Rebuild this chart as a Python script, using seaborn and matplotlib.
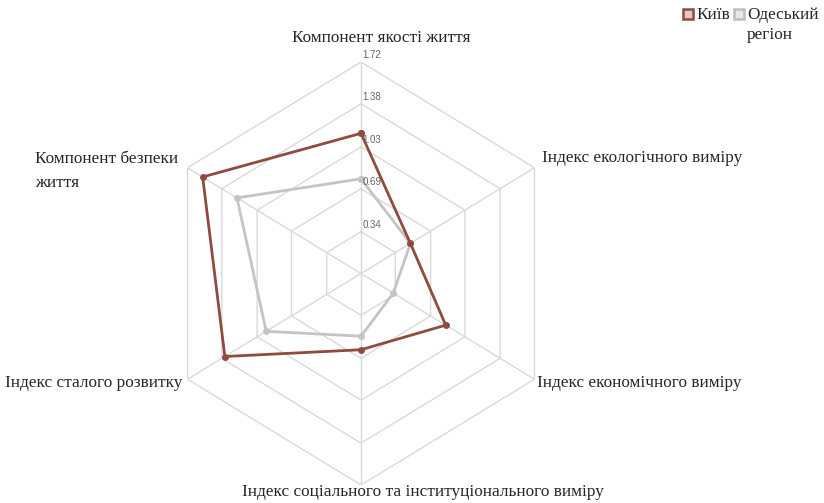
import numpy as np
import pandas as pd
import matplotlib
matplotlib.use("Agg")
import matplotlib.pyplot as plt
import seaborn as sns
from matplotlib.patches import Rectangle

# Data
categories = [
    "Компонент якості життя",
    "Індекс екологічного виміру",
    "Індекс економічного виміру",
    "Індекс соціального та інституціонального виміру",
    "Індекс сталого розвитку",
    "Компонент безпеки\nжиття",
]
kyiv = [1.14, 0.49, 0.84, 0.62, 1.35, 1.57]
odesa = [0.77, 0.49, 0.32, 0.51, 0.94, 1.23]
series_names = ["Київ", "Одеський\nрегіон"]
ticks = [0.34, 0.69, 1.03, 1.38, 1.72]
tick_labels = ["0.34", "0.69", "1.03", "1.38", "1.72"]
r_max = 1.72

brown = "#8E4B3E"
grey = "#C4C4C4"
grid_col = "#D9D9D9"

sns.set_style("white")
plt.rcParams["font.family"] = ["Liberation Serif", "DejaVu Serif"]

W, H = 824, 503
fig = plt.figure(figsize=(W / 100, H / 100), dpi=100)


def px(x, y):
    return x / W, 1 - y / H


# axes box: centre (361, 273.5), horizontal radius ~200, vertical ~211.5
ax = fig.add_axes([160.7 / W, (H - 485) / H, 400.6 / W, 423 / H], projection="polar")
ax.set_aspect("auto")
ax.set_theta_zero_location("N")
ax.set_theta_direction(-1)

n = len(categories)
angles = np.linspace(0, 2 * np.pi, n, endpoint=False)
closed = np.append(angles, angles[0])

# hexagonal grid
for t in ticks:
    ax.plot(closed, [t] * (n + 1), color=grid_col, lw=1, zorder=1)
for a in angles:
    ax.plot([a, a], [0, r_max], color=grid_col, lw=1, zorder=1)

df = pd.DataFrame({
    "theta": np.concatenate([closed, closed]),
    "value": kyiv + [kyiv[0]] + odesa + [odesa[0]],
    "region": [series_names[0]] * (n + 1) + [series_names[1]] * (n + 1),
})
sns.lineplot(data=df, x="theta", y="value", hue="region",
             estimator=None, sort=False,
             palette={series_names[0]: brown, series_names[1]: grey},
             hue_order=series_names[::-1], lw=2, marker="o", markersize=5,
             markeredgewidth=0, legend=False, ax=ax, zorder=3)

ax.set_ylim(0, r_max)
ax.set_xticks([])
ax.set_yticks([])
ax.grid(False)
ax.spines["polar"].set_visible(False)
ax.set_xlabel("")
ax.set_ylabel("")

for t, lab in zip(ticks, tick_labels):
    ax.annotate(lab, (0, t), xytext=(1, 5), textcoords="offset points",
                ha="left", va="center", fontsize=7, color="#666666",
                family="Liberation Sans", zorder=4)

# category labels
lab_fs = 12.4
fig.text(*px(381, 38), categories[0], ha="center", va="center", fontsize=lab_fs, color="#262626")
fig.text(*px(542, 158), categories[1], ha="left", va="center", fontsize=lab_fs, color="#262626")
fig.text(*px(537, 383), categories[2], ha="left", va="center", fontsize=lab_fs, color="#262626")
fig.text(*px(423, 492), categories[3], ha="center", va="center", fontsize=lab_fs, color="#262626")
fig.text(*px(5, 383), categories[4], ha="left", va="center", fontsize=lab_fs, color="#262626")
fig.text(*px(35, 171), categories[5], ha="left", va="center", fontsize=lab_fs, color="#262626",
         linespacing=1.65)

# legend
for (x0, name, ec, fc) in [(683, series_names[0], brown, "#E3C7C1"),
                           (734, series_names[1], "#BDBDBD", "#E6E6E6")]:
    fig.patches.append(Rectangle(px(x0, 19), 10 / W, 10 / H, transform=fig.transFigure,
                                 facecolor=fc, edgecolor=ec, lw=1.8))
    fig.text(*px(x0 + 13, 7), name, ha="left", va="top", fontsize=12.4, color="#262626",
             linespacing=1.3)

fig.savefig("out.png", dpi=100)
